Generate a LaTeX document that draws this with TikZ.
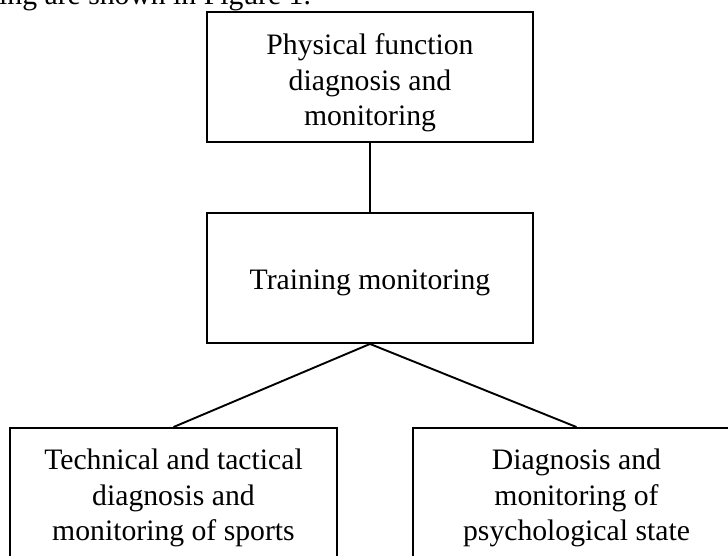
\documentclass[tikz,border=0pt]{standalone}
\usepackage{fontspec}
\setmainfont{Liberation Serif}
\begin{document}
\begin{tikzpicture}[x=1pt,y=-1pt,
  box/.style={draw=black,line width=1.9pt,minimum width=326pt,minimum height=130pt,inner sep=0pt},
  lbl/.style={align=center,inner sep=0pt,font=\fontsize{29.7}{35.5}\selectfont},
  link/.style={draw=black,line width=1.9pt}]
\path[use as bounding box] (0,0) rectangle (728,556);
\clip (0,0) rectangle (728,556);
\node[anchor=base west,inner sep=0pt,font=\fontsize{29.7}{35.5}\selectfont] (cap) at (-1,5) {ing are shown in Figure 1.};
\node[box] (top) at (370,77) {};
\node[box] (mid) at (370,278) {};
\node[box,minimum width=327pt] (bl) at (173.5,493) {};
\node[box,minimum width=327pt] (br) at (576.5,493) {};
\node[lbl] (topT) at ([yshift=-6pt]top.center) {Physical function\\diagnosis and\\monitoring};
\node[lbl] (midT) at ([yshift=-5pt]mid.center) {Training monitoring};
\node[lbl] (blT) at ([yshift=-5pt]bl.center) {Technical and tactical\\diagnosis and\\monitoring of sports};
\node[lbl] (brT) at ([yshift=-5pt]br.center) {Diagnosis and\\monitoring of\\psychological state};
\draw[link] (top) -- (mid);
\draw[link] (mid.south) -- (bl.north);
\draw[link] (mid.south) -- (br.north);
\end{tikzpicture}
\end{document}
